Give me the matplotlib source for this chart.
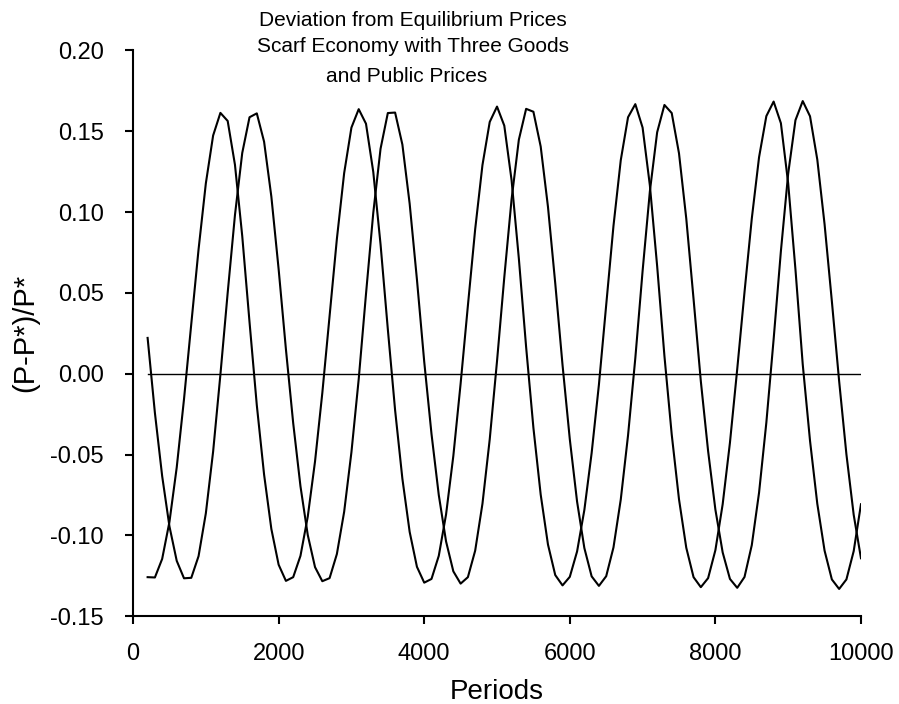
import matplotlib
matplotlib.use("Agg")
import matplotlib.pyplot as plt

plt.rcParams['font.family'] = ['Liberation Sans', 'DejaVu Sans']
plt.rcParams['axes.unicode_minus'] = False

# periods sampled every 100 steps
periods = list(range(200, 10001, 100))

# price deviation, good 1 (starts at the trough)
good1 = [-0.1258, -0.1260, -0.1145, -0.0916, -0.0579, -0.0157, 0.0309, 0.0770, 0.1178, 0.1474,
         0.1614, 0.1564, 0.1293, 0.0852, 0.0320, -0.0194, -0.0623, -0.0960, -0.1181, -0.1281,
         -0.1258, -0.1126, -0.0884, -0.0542, -0.0119, 0.0358, 0.0834, 0.1241, 0.1523, 0.1637,
         0.1547, 0.1249, 0.0801, 0.0276, -0.0225, -0.0649, -0.0978, -0.1194, -0.1292, -0.1269,
         -0.1126, -0.0870, -0.0508, -0.0061, 0.0422, 0.0894, 0.1291, 0.1558, 0.1653, 0.1535,
         0.1198, 0.0713, 0.0165, -0.0334, -0.0747, -0.1056, -0.1245, -0.1309, -0.1256, -0.1099,
         -0.0842, -0.0490, -0.0067, 0.0426, 0.0915, 0.1321, 0.1587, 0.1668, 0.1523, 0.1165,
         0.0666, 0.0110, -0.0375, -0.0776, -0.1076, -0.1258, -0.1320, -0.1264, -0.1091, -0.0807,
         -0.0426, 0.0029, 0.0505, 0.0960, 0.1340, 0.1594, 0.1684, 0.1550, 0.1178, 0.0645,
         0.0058, -0.0414, -0.0804, -0.1094, -0.1272, -0.1331, -0.1272, -0.1097, -0.0807]

# price deviation, good 2 (starts just above zero)
good2 = [0.0222, -0.0241, -0.0633, -0.0944, -0.1157, -0.1265, -0.1262, -0.1128, -0.0863, -0.0481,
         -0.0005, 0.0501, 0.0982, 0.1366, 0.1587, 0.1611, 0.1436, 0.1096, 0.0647, 0.0152,
         -0.0305, -0.0696, -0.0997, -0.1196, -0.1283, -0.1264, -0.1115, -0.0854, -0.0485, -0.0033,
         0.0493, 0.0995, 0.1392, 0.1613, 0.1616, 0.1418, 0.1052, 0.0583, 0.0075, -0.0372,
         -0.0750, -0.1037, -0.1222, -0.1298, -0.1258, -0.1094, -0.0804, -0.0405, 0.0078, 0.0597,
         0.1079, 0.1448, 0.1639, 0.1621, 0.1406, 0.1033, 0.0560, 0.0055, -0.0405, -0.0791,
         -0.1078, -0.1253, -0.1312, -0.1252, -0.1074, -0.0778, -0.0381, 0.0097, 0.0636, 0.1129,
         0.1494, 0.1663, 0.1613, 0.1364, 0.0960, 0.0463, -0.0046, -0.0478, -0.0840, -0.1105,
         -0.1269, -0.1324, -0.1257, -0.1060, -0.0735, -0.0302, 0.0213, 0.0759, 0.1238, 0.1569,
         0.1687, 0.1593, 0.1325, 0.0925, 0.0449, -0.0045, -0.0498, -0.0872, -0.1141]

# equilibrium reference
equilibrium = [0.0] * len(periods)

fig = plt.figure(figsize=(8.99, 7.04), dpi=100)
ax = fig.add_axes([0.148, 0.1246, 0.8097, 0.8037])

ax.plot(periods, equilibrium, color='black', lw=1.0)
ax.plot(periods, good1, color='black', lw=1.5)
ax.plot(periods, good2, color='black', lw=1.5)

ax.set_xlim(0, 10000)
ax.set_ylim(-0.15, 0.20)
ax.set_xticks([0, 2000, 4000, 6000, 8000, 10000])
ax.set_yticks([-0.15, -0.10, -0.05, 0.0, 0.05, 0.10, 0.15, 0.20])
ax.set_yticklabels(['-0.15', '-0.10', '-0.05', '0.00', '0.05', '0.10', '0.15', '0.20'])

for s in ['top', 'right']:
    ax.spines[s].set_visible(False)
for s in ['left', 'bottom']:
    ax.spines[s].set_linewidth(1.5)
ax.tick_params(axis='both', direction='out', length=6, width=1.5, labelsize=17)
ax.tick_params(axis='y', pad=15)
ax.tick_params(axis='x', pad=13)

ax.set_xlabel('Periods', fontsize=20, labelpad=10)
ax.set_ylabel('(P-P*)/P*', fontsize=21, labelpad=8)

fig.text(0.459, 1 - 20 / 704, 'Deviation from Equilibrium Prices', ha='center', va='center', fontsize=15)
fig.text(0.459, 1 - 47 / 704, 'Scarf Economy with Three Goods', ha='center', va='center', fontsize=15)
fig.text(0.452, 1 - 77 / 704, 'and Public Prices', ha='center', va='center', fontsize=15)

fig.savefig('out.png', dpi=100)
